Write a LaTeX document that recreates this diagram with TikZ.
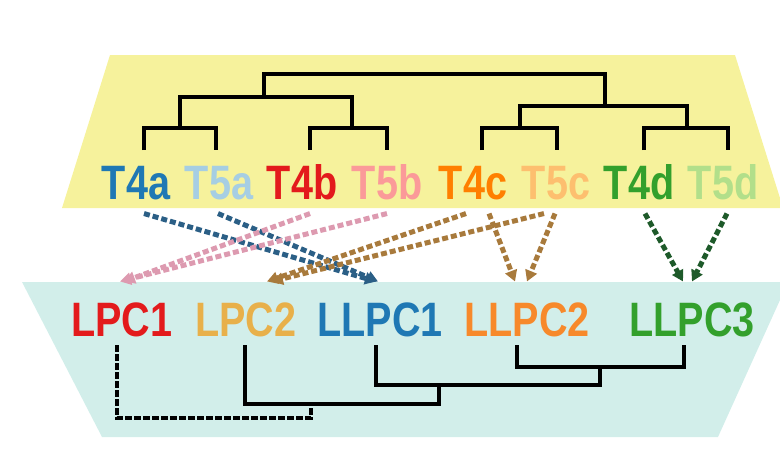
\documentclass[tikz,border=0pt]{standalone}
\usepackage{fontspec}
\setmainfont{Liberation Sans}
\usetikzlibrary{arrows.meta}
\definecolor{cT4a}{HTML}{1F78B4}
\definecolor{cT5a}{HTML}{A6CEE3}
\definecolor{cT4b}{HTML}{E31A1C}
\definecolor{cT5b}{HTML}{FB9A99}
\definecolor{cT4c}{HTML}{FF7F00}
\definecolor{cT5c}{HTML}{FDBF6F}
\definecolor{cT4d}{HTML}{33A02C}
\definecolor{cT5d}{HTML}{B2DF8A}
\definecolor{cLPCb}{HTML}{E8B04A}
\definecolor{cLLPCb}{HTML}{F7892B}
\definecolor{yelbg}{HTML}{F6F29C}
\definecolor{cyanbg}{HTML}{D2EEEA}
\definecolor{arrblue}{HTML}{2B5F86}
\definecolor{arrpink}{HTML}{DD9AB0}
\definecolor{arrbrown}{HTML}{A87A3C}
\definecolor{arrgreen}{HTML}{1E5A2A}
\begin{document}
\begin{tikzpicture}[
    x=1pt, y=-1pt,
    lbl/.style={inner sep=0pt, text height=33pt, text depth=0pt, xscale=0.86, yscale=1.05,
        font=\fontsize{46}{46}\selectfont\bfseries},
    tree/.style={line width=4.5pt, black},
    dtree/.style={tree, dash pattern=on 7pt off 2pt},
    arr/.style={-{Triangle[length=11pt,width=12pt]}, line width=5pt,
        dash pattern=on 6pt off 3pt}
]
    \useasboundingbox (0,0) rectangle (780,459);

    % Backgrounds
    \fill[yelbg] (110,55) -- (735,55) -- (780,198) -- (780,208) -- (62,208) -- cycle;
    \fill[cyanbg] (22,282) -- (780,282) -- (780,300) -- (718,437) -- (102,437) -- cycle;

    % Top labels
    \node[lbl, text=cT4a] (t4a) at (136,182) {T4a};
    \node[lbl, text=cT5a] (t5a) at (219,182) {T5a};
    \node[lbl, text=cT4b] (t4b) at (302,182) {T4b};
    \node[lbl, text=cT5b] (t5b) at (387,182) {T5b};
    \node[lbl, text=cT4c] (t4c) at (473,182) {T4c};
    \node[lbl, text=cT5c] (t5c) at (556,182) {T5c};
    \node[lbl, text=cT4d] (t4d) at (639,182) {T4d};
    \node[lbl, text=cT5d] (t5d) at (723,182) {T5d};

    % Bottom labels
    \node[lbl, text=cT4b] (lpc1) at (122,319) {LPC1};
    \node[lbl, text=cLPCb] (lpc2) at (246,319) {LPC2};
    \node[lbl, text=cT4a] (llpc1) at (380,319) {LLPC1};
    \node[lbl, text=cLLPCb] (llpc2) at (527,319) {LLPC2};
    \node[lbl, text=cT4d] (llpc3) at (692,319) {LLPC3};

    % Top tree
    \draw[tree] (144,150) |- (216,128) -- (216,150);
    \draw[tree] (310,150) |- (387,128) -- (387,150);
    \draw[tree] (482,150) |- (557,128) -- (557,150);
    \draw[tree] (644,150) |- (728,128) -- (728,150);
    \draw[tree] (180,128) |- (352,97) -- (352,128);
    \draw[tree] (520,128) |- (687,106) -- (687,128);
    \draw[tree] (264,97) |- (605,74) -- (605,106);

    % Bottom tree
    \draw[tree] (517,345) |- (684,367) -- (684,345);
    \draw[tree] (376,345) |- (600,385) -- (600,367);
    \draw[tree] (245,345) |- (439,404) -- (439,385);
    \draw[dtree] (117,345) |- (311,418) -- (311,404);

    % Arrows
    \draw[arr, arrblue] ([xshift=8pt,yshift=-14pt]t4a.south) -- ([xshift=-4pt,yshift=20pt]llpc1.north);
    \draw[arr, arrblue] ([xshift=-1pt,yshift=-14pt]t5a.south) -- ([xshift=-2pt,yshift=20pt]llpc1.north);
    \draw[arr, arrpink] ([xshift=8pt,yshift=-14pt]t4b.south) -- ([xshift=2pt,yshift=20pt]lpc1.north);
    \draw[arr, arrpink] ([xshift=0pt,yshift=-14pt]t5b.south) -- ([xshift=-2pt,yshift=20pt]lpc1.north);
    \draw[arr, arrbrown] ([xshift=-7pt,yshift=-14pt]t4c.south) -- ([xshift=21pt,yshift=20pt]lpc2.north);
    \draw[arr, arrbrown] ([xshift=16pt,yshift=-14pt]t4c.south) -- ([xshift=-12pt,yshift=20pt]llpc2.north);
    \draw[arr, arrbrown] ([xshift=-12pt,yshift=-14pt]t5c.south) -- ([xshift=26pt,yshift=20pt]lpc2.north);
    \draw[arr, arrbrown] ([xshift=-1pt,yshift=-14pt]t5c.south) -- ([xshift=0pt,yshift=20pt]llpc2.north);
    \draw[arr, arrgreen] ([xshift=6pt,yshift=-14pt]t4d.south) -- ([xshift=-9pt,yshift=20pt]llpc3.north);
    \draw[arr, arrgreen] ([xshift=4pt,yshift=-14pt]t5d.south) -- ([xshift=0pt,yshift=20pt]llpc3.north);
\end{tikzpicture}
\end{document}
